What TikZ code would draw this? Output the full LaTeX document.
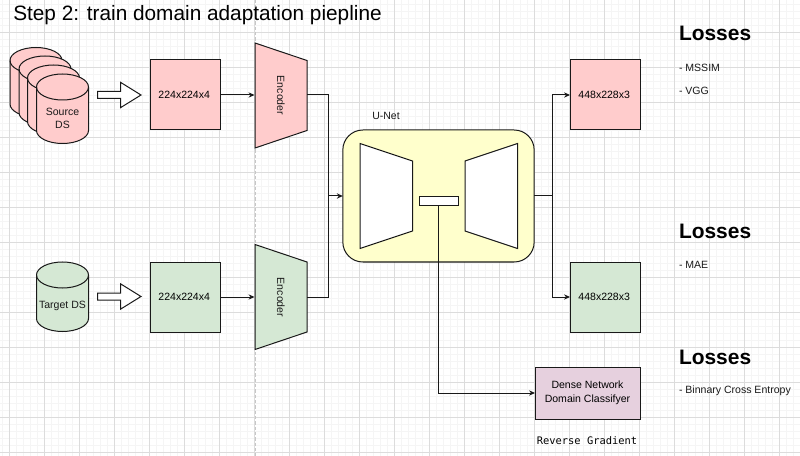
\documentclass[tikz,border=0pt]{standalone}
\usepackage{fontspec}
\setmainfont{Liberation Sans}
\newfontfamily\monofam{DejaVu Sans Mono}
\usetikzlibrary{arrows.meta}
\definecolor{pinkfill}{HTML}{FFCCCC}
\definecolor{greenfill}{HTML}{D5E8D4}
\definecolor{mauvefill}{HTML}{E6D0DE}
\definecolor{yellowfill}{HTML}{FFFFCC}
\definecolor{gridmajor}{HTML}{DCDCDC}
\definecolor{gridminor}{HTML}{F5F5F5}
\tikzset{
  x=0.75pt,y=-0.75pt,
  outline/.style={draw=black!90,line width=0.75pt,line join=miter},
  boxnode/.style={outline,inner sep=0pt,outer sep=0pt,minimum width=52.5pt,minimum height=52.5pt,font=\fontsize{7.9}{9.5}\selectfont},
  conn/.style={draw=black!90,line width=0.75pt},
  arrowconn/.style={conn,-{Stealth[length=4.5pt,width=4pt]}},
  label/.style={inner sep=0pt,outer sep=0pt,font=\fontsize{7.9}{9.5}\selectfont,text=black!90},
  lefttext/.style={label,anchor=west},
  losshead/.style={inner sep=0pt,outer sep=0pt,anchor=west,font=\fontsize{15.7}{18}\selectfont\bfseries},
}
\newcommand{\cyl}[4]{% x left, y top, height, fill
  \path[outline,fill=#4] (#1,#2+13) arc[x radius=26,y radius=13,start angle=180,end angle=360] -- (#1+52,#2+#3-13)
    arc[x radius=26,y radius=13,start angle=0,end angle=180] -- cycle;
  \path[outline] (#1,#2+13) arc[x radius=26,y radius=13,start angle=180,end angle=0];
}
\newcommand{\hollowarrow}[2]{% x left, y centre
  \path[draw=black!90,line width=0.75pt,fill=white,line join=miter] (#1,#2-3.5) -- (#1+23,#2-3.5) -- (#1+23,#2-12.7) -- (#1+43.5,#2)
    -- (#1+23,#2+12.7) -- (#1+23,#2+3.5) -- (#1,#2+3.5) -- cycle;
}
\begin{document}
\begin{tikzpicture}
\useasboundingbox (0,0) rectangle (800,456);
\fill[white] (0,0) rectangle (800,456);
% grid
\foreach \k in {0,...,114} {
  \draw[gridminor,line width=0.75pt] ({2.5+7*\k},0) -- ({2.5+7*\k},456);
}
\foreach \k in {0,...,65} {
  \draw[gridminor,line width=0.75pt] (0,{4.5+7*\k}) -- (800,{4.5+7*\k});
}
\foreach \k in {0,...,22} {
  \draw[gridmajor,line width=0.75pt] ({9.5+35*\k},0) -- ({9.5+35*\k},456);
}
\foreach \k in {1,...,13} {
  \draw[gridmajor,line width=0.75pt] (0,{-2.5+35*\k}) -- (800,{-2.5+35*\k});
}
\draw[black!22,line width=0.75pt,dash pattern=on 2.6pt off 1.4pt] (255,0) -- (255,456);

% title
\node[inner sep=0pt,anchor=west,font=\fontsize{15.6}{18}\selectfont] (title) at (13,15) {Step 2: train domain adaptation piepline};

% source cylinders
\cyl{10}{47.5}{69.5}{pinkfill}
\cyl{19}{56}{69.5}{pinkfill}
\cyl{27.5}{65}{69.5}{pinkfill}
\cyl{36.5}{74}{69.5}{pinkfill}
\node[label,align=center] (srcds) at (62.5,118.5) {Source\\[0.8pt]DS};
\hollowarrow{97.5}{95}

% target cylinder
\cyl{36.5}{262}{69.5}{greenfill}
\node[label] (tgtds) at (62.5,306) {Target DS};
\hollowarrow{97.5}{296.5}

% input boxes
\node[boxnode,fill=pinkfill] (inA) at (185,95) {\hspace*{-1.2pt}224x224x4};
\node[boxnode,fill=greenfill] (inB) at (185,297) {\hspace*{-1.2pt}224x224x4};

% encoders
\path[outline,fill=pinkfill] (255,43) -- (307,60.5) -- (307,130.5) -- (255,148) -- cycle;
\path[outline,fill=greenfill] (255,244.5) -- (307,262) -- (307,332) -- (255,349.5) -- cycle;
\node[label,rotate=-90] (encA) at (281,95.5) {Encoder};
\node[label,rotate=-90] (encB) at (281,297.5) {Encoder};
\coordinate (encAin) at (254.5,95);
\coordinate (encBin) at (254.5,297);
\coordinate (encAout) at (307,95);
\coordinate (encBout) at (307,297);

% U-Net
\node[outline,fill=yellowfill,rounded corners=15pt,inner sep=0pt,outer sep=0pt,minimum width=143.5pt,minimum height=99pt] (unet) at (438.5,196) {};
\node[label] (unetlabel) at (386,116) {U-Net};
\path[outline,fill=white] (360,143.5) -- (412.5,161) -- (412.5,231) -- (360,248.5) -- cycle;
\path[outline,fill=white] (517.5,143.5) -- (465,161) -- (465,231) -- (517.5,248.5) -- cycle;
\node[outline,fill=white,inner sep=0pt,outer sep=0pt,minimum width=29.5pt,minimum height=6.5pt] (bottleneck) at (438.7,200.7) {};

% output boxes
\node[boxnode,fill=pinkfill] (outA) at (605,95) {\hspace*{-1.2pt}448x228x3};
\node[boxnode,fill=greenfill] (outB) at (605,297) {\hspace*{-1.2pt}448x228x3};
\node[boxnode,fill=mauvefill,minimum width=78.75pt,minimum height=39pt,align=center] (clf) at (587.5,393) {Dense Network\\[1pt]Domain Classifyer};
\node[inner sep=0pt,font=\fontsize{7.8}{9.5}\monofam] (revgrad) at (587,441) {Reverse Gradient};

% connectors
\draw[arrowconn] (inA.east) -- (encAin);
\draw[arrowconn] (inB.east) -- (encBin);
\coordinate (joinL) at (328,196);
\draw[conn] (encAout) -| (joinL);
\draw[conn] (encBout) -| (joinL);
\draw[arrowconn] (joinL) -- (unet.west);
\coordinate (joinR) at (552,196);
\draw[conn] (unet.east) -- (joinR);
\draw[arrowconn] (joinR) |- (outA.west);
\draw[arrowconn] (joinR) |- (outB.west);
\draw[arrowconn] (bottleneck.south) |- (clf.west);

% losses
\node[losshead] (lossA) at (679,33) {Losses};
\node[lefttext] (mssim) at (679,68) {- MSSIM};
\node[lefttext] (vgg) at (679,91) {- VGG};
\node[losshead] (lossB) at (679,231) {Losses};
\node[lefttext] (mae) at (679,265) {- MAE};
\node[losshead] (lossC) at (679,357) {Losses};
\node[lefttext] (bce) at (679,391) {- Binnary Cross Entropy};
\end{tikzpicture}
\end{document}
